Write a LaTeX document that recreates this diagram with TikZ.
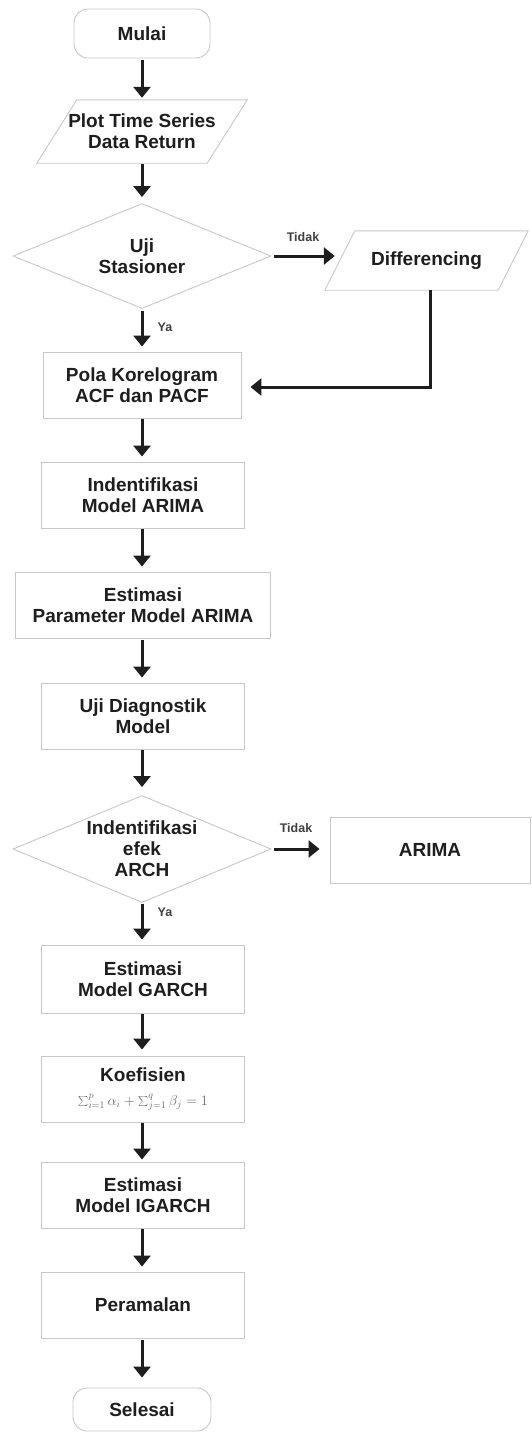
\documentclass[tikz,border=0pt]{standalone}
\usepackage{fontspec}
\setmainfont{Liberation Sans}
\usetikzlibrary{arrows.meta,shapes.geometric,calc}
\definecolor{boxgray}{HTML}{C8C8C8}
\definecolor{txt}{HTML}{1E1E1E}
\definecolor{formgray}{HTML}{6A6A6A}
\newcommand\nodefont{\fontsize{19}{21}\selectfont\bfseries}
\newcommand\labfont{\fontsize{12.5}{14}\selectfont\bfseries}
\begin{document}
\begin{tikzpicture}[x=1pt,y=-1pt,
  procbox/.style={rectangle, draw=boxgray, line width=0.9pt, align=center,
    inner sep=0pt, font=\nodefont, text=txt},
  termbox/.style={procbox, rounded corners=14pt},
  decbox/.style={diamond, draw=boxgray, line width=0.9pt, align=center,
    inner sep=0pt, aspect=2.41, font=\nodefont, text=txt},
  iobox/.style={rectangle, align=center, inner sep=0pt, font=\nodefont, text=txt},
  ioline/.style={draw=boxgray, line width=0.9pt},
  flow/.style={line width=3pt, draw=txt, -{Triangle[length=11pt,width=17pt]},
    shorten >=5pt, shorten <=1pt},
  lab/.style={font=\labfont, text=txt!85, inner sep=0pt}
]
\useasboundingbox[fill=white] (0,0) rectangle (532,1433);

% nodes
\node[termbox, minimum width=136pt, minimum height=49pt] (mulai) at (142,33.5) {Mulai};
\node[iobox, minimum width=170pt, minimum height=63pt] (plot) at (142,131.5) {Plot Time Series\\Data Return};
\draw[ioline] ([xshift=-20pt]plot.south west) -- ([xshift=-20pt]plot.south east)
  -- ([xshift=20pt]plot.north east) -- ([xshift=20pt]plot.north west) -- cycle;
\node[decbox, minimum width=258pt, minimum height=105pt] (uji) at (142,256) {Uji\\Stasioner};
\node[iobox, minimum width=173pt, minimum height=59pt] (diff) at (426.5,260.5) {Differencing};
\draw[ioline] ([xshift=-15pt]diff.south west) -- ([xshift=-15pt]diff.south east)
  -- ([xshift=15pt]diff.north east) -- ([xshift=15pt]diff.north west) -- cycle;
\node[procbox, minimum width=198pt, minimum height=66pt] (pola) at (142,385) {Pola Korelogram\\ACF dan PACF};
\node[procbox, minimum width=203pt, minimum height=66pt] (ident) at (143,495) {Indentifikasi\\Model ARIMA};
\node[procbox, minimum width=255pt, minimum height=66pt] (estpar) at (143,605) {Estimasi\\Parameter Model ARIMA};
\node[procbox, minimum width=203pt, minimum height=66pt] (diag) at (143,716) {Uji Diagnostik\\Model};
\node[decbox, minimum width=258pt, minimum height=107pt] (arch) at (142,849) {Indentifikasi\\efek\\ARCH};
\node[procbox, minimum width=200pt, minimum height=66pt] (arima) at (430,850) {ARIMA};
\node[procbox, minimum width=203pt, minimum height=68pt] (garch) at (143,979) {Estimasi\\Model GARCH};
\node[procbox, minimum width=203pt, minimum height=66pt] (koef) at (143,1089)
  {Koefisien\\[3pt]{\color{formgray}\normalfont\fontsize{14.5}{16}\selectfont$\sum_{i=1}^{p}\alpha_i+\sum_{j=1}^{q}\beta_j=1$}};
\node[procbox, minimum width=203pt, minimum height=66pt] (igarch) at (143,1195) {Estimasi\\Model IGARCH};
\node[procbox, minimum width=203pt, minimum height=66pt] (ramal) at (143,1305) {Peramalan};
\node[termbox, minimum width=138pt, minimum height=43pt] (selesai) at (142,1409.5) {Selesai};

% labels
\node[lab] (tidak1) at (303,237) {Tidak};
\node[lab] (ya1) at (165,327) {Ya};
\node[lab] (tidak2) at (296,828) {Tidak};
\node[lab] (ya2) at (165,912) {Ya};

% connectors
\draw[flow, shorten >=2pt, shorten <=2pt] (mulai.south) -- (plot.north);
\draw[flow, shorten >=6pt] (plot.south) -- (uji.north);
\draw[flow, shorten <=2pt] (uji.south) -- (pola.north);
\draw[flow] (pola.south) -- (ident.north -| pola.south);
\draw[flow] (ident.south -| pola.south) -- (estpar.north -| pola.south);
\draw[flow, shorten <=2pt] (estpar.south -| pola.south) -- (diag.north -| pola.south);
\draw[flow, shorten >=8pt] (diag.south -| pola.south) -- (arch.north);
\draw[flow] (arch.south) -- (garch.north -| arch.south);
\draw[flow, shorten >=6pt] (garch.south -| arch.south) -- (koef.north -| arch.south);
\draw[flow, shorten >=2pt] (koef.south -| arch.south) -- (igarch.north -| arch.south);
\draw[flow] (igarch.south -| arch.south) -- (ramal.north -| arch.south);
\draw[flow, shorten >=10pt, shorten <=2pt] (ramal.south -| arch.south) -- (selesai.north);
\draw[flow, shorten <=3pt, shorten >=5pt] (uji.east) -- (uji.east -| diff.west);
\draw[flow, shorten <=3pt, shorten >=10pt] (arch.east) -- (arch.east -| arima.west);
\draw[flow, shorten >=9pt, shorten <=0pt] ([xshift=4pt]diff.south) |- ([yshift=-2pt]pola.east);
\end{tikzpicture}
\end{document}
